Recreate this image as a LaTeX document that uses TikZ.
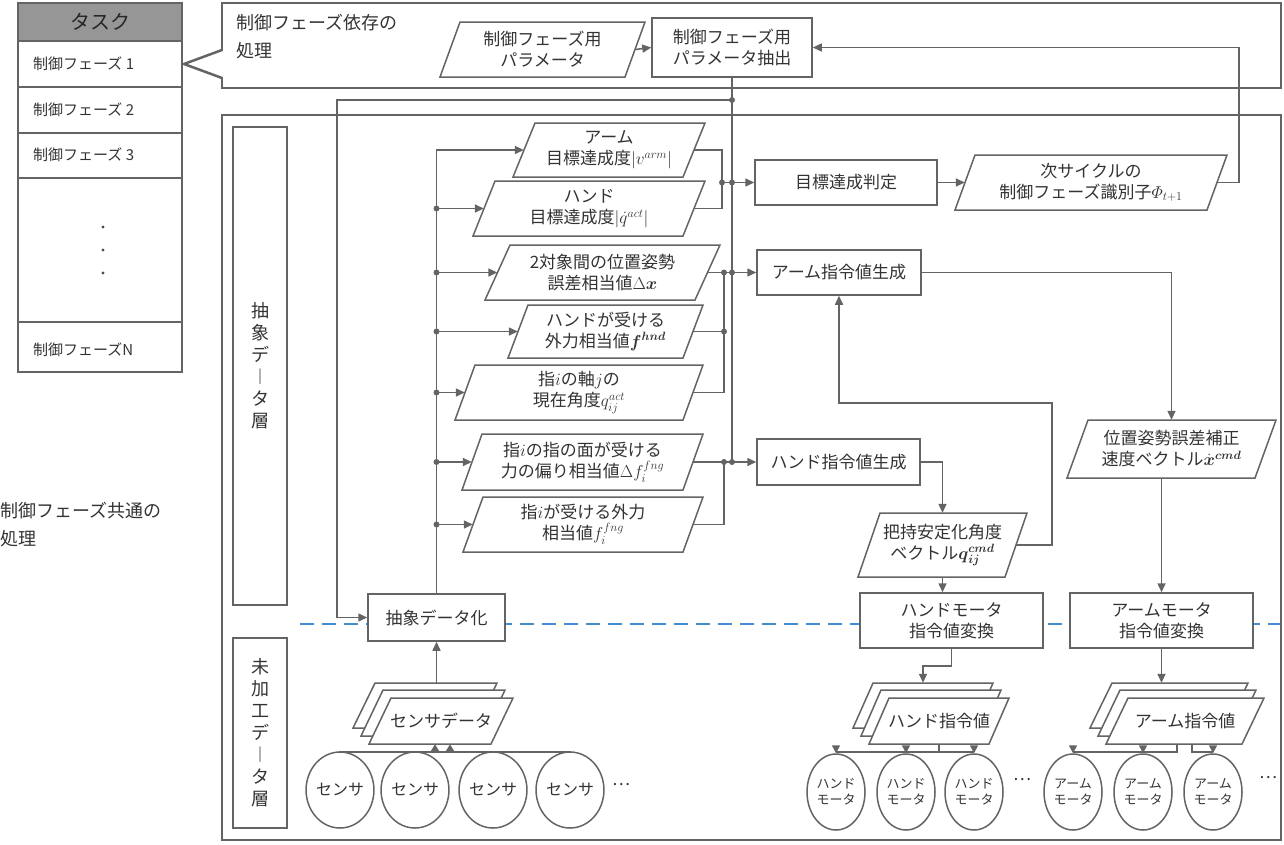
\documentclass[tikz,border=0pt]{standalone}
\usepackage{amsmath}
\usepackage{fontspec}
\setmainfont{Noto Sans CJK JP}
\usetikzlibrary{shapes.geometric,arrows.meta,calc}
\definecolor{lc}{RGB}{100,100,100}
\definecolor{hd}{RGB}{150,150,150}
\definecolor{dashblue}{RGB}{70,140,210}
\tikzset{
  x=1pt,y=-1pt,
  ln/.style={draw=lc,line width=1.5pt},
  arr/.style={ln,-{Triangle[length=9pt,width=8pt]}},
  box/.style={ln,fill=white},
  txt/.style={inner sep=0pt,align=center,font=\fontsize{17}{21}\selectfont,text=black!80},
  dot/.style={circle,fill=lc,inner sep=0pt,minimum size=6pt},
  ell/.style={ellipse,ln,inner sep=0pt,minimum width=62pt,minimum height=76pt,align=center,font=\fontsize{13}{16}\selectfont,text=black!80},
}
% name, x1, y1, x2, y2, text
\newcommand\rbox[6]{\node[box,txt,minimum width={(#4-#2)*1pt},minimum height={(#5-#3)*1pt}] (#1) at ({(#2+#4)/2},{(#3+#5)/2}) {#6};}
% name, xl(bottom-left), ytop, ybot, width, skew, text
\newcommand\para[7]{\draw[box] (#2+#6,#3) -- (#2+#6+#5,#3) -- (#2+#5,#4) -- (#2,#4) -- cycle;
  \node[txt,minimum width={(#5)*1pt},minimum height={(#4-#3)*1pt}] (#1) at ({#2+#5/2+#6/2},{(#3+#4)/2}) {#7};}
\newcommand\mydot[1]{\node[dot] at (#1) {};}
\begin{document}
\begin{tikzpicture}
\useasboundingbox (0,0) rectangle (1284,844);
% task column
\draw[ln,fill=hd] (18,3) rectangle (182,41);
\node[txt,font=\fontsize{20}{24}\selectfont,text=black!85] (task) at (100,22) {タスク};
\draw[ln] (18,41) rectangle (182,372);
\foreach \y in {87,133,178,322} \draw[ln] (18,\y) -- (182,\y);
\node[txt,font=\fontsize{15}{18}\selectfont,anchor=west] (ph1) at (33,64) {制御フェーズ 1};
\node[txt,font=\fontsize{15}{18}\selectfont,anchor=west] (ph2) at (33,110) {制御フェーズ 2};
\node[txt,font=\fontsize{15}{18}\selectfont,anchor=west] (ph3) at (33,155) {制御フェーズ 3};
\node[txt,font=\fontsize{15}{18}\selectfont,anchor=west] (phn) at (33,350) {制御フェーズN};
\foreach \y in {227,250,273} \fill[black!70] (103,\y) circle (1.6);
% top box
\draw[ln,line width=2.5pt] (222,3) rectangle (1281,88);
\fill[white] (219,51) rectangle (225,77);
\draw[ln,line width=2.5pt] (222,50) -- (184,64) -- (222,78);
\node[txt,font=\fontsize{18}{28}\selectfont,align=left,anchor=north west] (dep) at (236,14) {制御フェーズ依存の\\処理};
\para{pp}{440}{22}{77}{185}{20}{制御フェーズ用\\パラメータ}
\rbox{pe}{652}{18}{812}{77}{制御フェーズ用\\パラメータ抽出}
% main box
\draw[ln,line width=2.5pt] (222,115) rectangle (1281,840);
\node[txt,font=\fontsize{18}{28}\selectfont,align=left,anchor=north west] (com) at (0,502) {制御フェーズ共通の\\処理};
\node[ln,txt,font=\fontsize{18}{22}\selectfont,minimum width=54pt,minimum height=478pt] (lay1) at (260,366) {抽\\象\\デ\\︱\\タ\\層};
\node[ln,txt,font=\fontsize{18}{22}\selectfont,minimum width=54pt,minimum height=190pt] (lay2) at (260,733) {未\\加\\工\\デ\\︱\\タ\\層};
\draw[draw=dashblue,line width=1.5pt,dash pattern=on 14pt off 8pt] (300,624) -- (1280,624);
% abstract data
\rbox{ab}{368}{594}{505}{641}{抽象データ化}
\para{p1}{513}{123}{177}{170}{22}{アーム\\目標達成度$|v^{arm}|$}
\para{p2}{473}{181}{236}{210}{22}{ハンド\\目標達成度$|\dot{q}^{act}|$}
\para{p3}{485}{245}{300}{210}{25}{2対象間の位置姿勢\\誤差相当値$\Delta\boldsymbol{x}$}
\para{p4}{508}{305}{358}{175}{20}{ハンドが受ける\\外力相当値$\boldsymbol{f}^{\boldsymbol{hnd}}$}
\para{p5}{455}{365}{420}{228}{20}{指$i$の軸$j$の\\現在角度$q_{ij}^{act}$}
\para{p6}{462}{434}{490}{221}{20}{指$i$の指の面が受ける\\力の偏り相当値$\Delta f_i^{fng}$}
\para{p7}{463}{497}{552}{220}{20}{指$i$が受ける外力\\相当値$f_i^{fng}$}
\rbox{tj}{755}{160}{937}{205}{目標達成判定}
\rbox{ag}{757}{250}{921}{295}{アーム指令値生成}
\rbox{hg}{757}{439}{920}{485}{ハンド指令値生成}
\para{nc}{955}{155}{210}{252}{20}{次サイクルの\\制御フェーズ識別子$\varPhi_{t+1}$}
\para{pc}{1067}{420}{478}{188}{21}{位置姿勢誤差補正\\速度ベクトル$\dot{\boldsymbol{x}}^{\boldsymbol{cmd}}$}
\para{gs}{858}{513}{577}{147}{22}{把持安定化角度\\ベクトル$\boldsymbol{q}_{\boldsymbol{ij}}^{\boldsymbol{cmd}}$}
\rbox{hm}{860}{593}{1043}{648}{ハンドモータ\\指令値変換}
\rbox{am}{1070}{593}{1253}{648}{アームモータ\\指令値変換}
% stacks
\para{ssb}{353}{683}{728}{122}{22}{}
\para{ssm}{361}{690}{736}{122}{22}{}
\para{ssf}{369}{698}{744}{122}{22}{センサデータ}
\para{hsb}{853}{683}{728}{120}{20}{}
\para{hsm}{861}{690}{736}{120}{20}{}
\para{hsf}{869}{698}{744}{120}{20}{ハンド指令値}
\para{asb}{1090}{683}{728}{136}{22}{}
\para{asm}{1098}{690}{736}{136}{22}{}
\para{asf}{1106}{698}{744}{136}{22}{アーム指令値}
% circles
\foreach \n/\x in {s1/340,s2/415,s3/493,s4/570} \node[ell,font=\fontsize{16}{20}\selectfont] (\n) at (\x,790) {センサ};
\foreach \n/\x in {h1/836,h2/906,h3/974} \node[ell,minimum width=58pt] (\n) at (\x,792) {ハンド\\モータ};
\foreach \n/\x in {a1/1073,a2/1143,a3/1213} \node[ell,minimum width=58pt] (\n) at (\x,792) {アーム\\モータ};
\node[txt] (d1) at (621,785) {…};
\node[txt] (d2) at (1022,780) {…};
\node[txt] (d3) at (1268,778) {…};
% connectors
\coordinate (x1) at (722,0);
\coordinate (x2) at (724,0);
\coordinate (yb) at (0,752);
\draw[arr] (pp.east) -- (pe.west);
\draw[arr] (nc.east) -- ++(22,0) |- (pe.east);
\draw[ln] (pe.south) -- (pe.south |- hg.west);
\coordinate (j0) at (pe.south |- 0,100);
\draw[arr] (j0) -- (337,100) |- (ab.west);
\mydot{j0}
\draw[arr] (ab.north) |- (p1.west);
\foreach \p in {p2,p3,p4,p5,p6,p7} {\draw[arr] (ab.north |- \p.west) -- (\p.west); \mydot{ab.north |- \p.west}}
\draw[ln] (p1.east) -| (tj.west -| x1);
\draw[ln] (p2.east) -| (tj.west -| x1);
\draw[arr] (tj.west -| x1) -- (tj.west);
\mydot{tj.west -| x1} \mydot{tj.west -| pe.south}
\draw[arr] (p3.east) -- (ag.west);
\draw[ln] (p4.east) -- (p4.east -| x2);
\draw[ln] (p5.east) -| (ag.west -| x2);
\mydot{p4.east -| x2} \mydot{ag.west -| x2} \mydot{ag.west -| pe.south}
\draw[arr] (p6.east) -- (hg.west);
\draw[ln] (p7.east) -| (hg.west -| x2);
\mydot{hg.west -| x2} \mydot{hg.west -| pe.south}
\draw[arr] (tj.east) -- (nc.west);
\draw[arr] (ag.east) -| (pc.north);
\draw[arr] (hg.east) -| (gs.north);
\coordinate (fb) at (1052,403);
\draw[arr] (gs.east) -| (fb) -| (ag.south);
\draw[arr] (gs.south) -- (gs.south |- hm.north);
\draw[arr] (am.north |- pc.south) -- (am.north);
\draw[arr] (hm.south) -- ++(0,17) -| (hsb.north);
\draw[arr] (am.south) -- (asb.north -| am.south);
\draw[arr] (ssb.north -| ab.south) -- (ab.south);
% sensors to data
\draw[ln] (s1.north) |- (s4.north |- yb) -- (s4.north);
\draw[ln] (s2.north) -- (s2.north |- yb);
\draw[ln] (s3.north) -- (s3.north |- yb);
\draw[arr,-{Triangle[length=7pt,width=8pt]}] ($(ssf.south |- yb)+(-6,0)$) -- ($(ssf.south)+(-6,0)$);
\draw[arr,-{Triangle[length=7pt,width=8pt]}] ($(ssf.south |- yb)+(9,0)$) -- ($(ssf.south)+(9,0)$);
% hand motors
\draw[ln] (hsf.south) -- (hsf.south |- yb);
\draw[ln] (h1.north |- yb) -- (h3.north |- yb);
\foreach \n in {h1,h2,h3} \draw[arr,-{Triangle[length=8pt,width=8pt]}] (\n.north |- yb) -- (\n.north);
% arm motors
\draw[ln] ($(asf.south)+(-8,0)$) -- ($(asf.south |- yb)+(-8,0)$) -- (a1.north |- yb);
\draw[ln] ($(asf.south)+(7,0)$) -- ($(asf.south |- yb)+(7,0)$) -- (a3.north |- yb);
\foreach \n in {a1,a2,a3} \draw[arr,-{Triangle[length=8pt,width=8pt]}] (\n.north |- yb) -- (\n.north);
\end{tikzpicture}
\end{document}
